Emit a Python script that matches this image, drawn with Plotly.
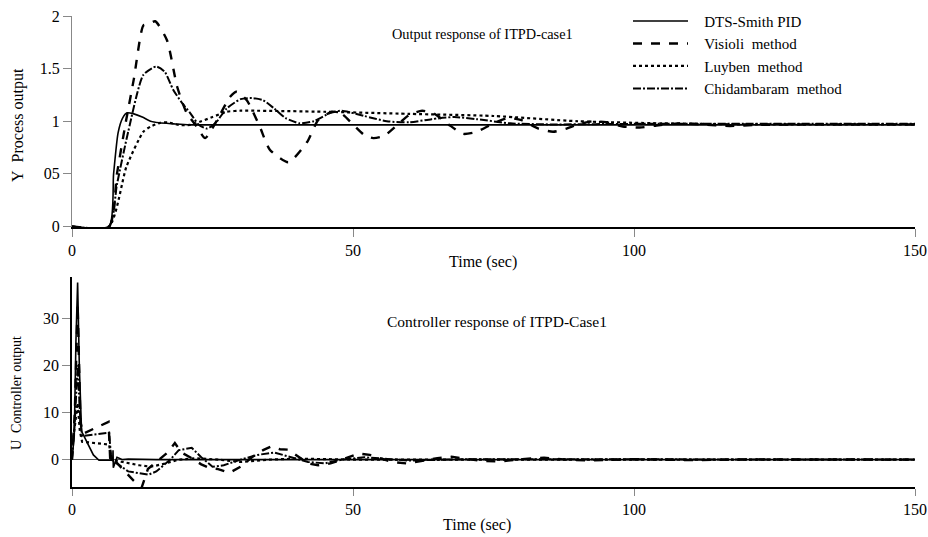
import plotly.graph_objects as go

# ---------------- data: process output (top) ----------------
t_dts_y = [0, 6.6, 7.4, 8.2, 9.0, 9.8, 11, 12.5, 14, 15.5, 18, 21, 150]
y_dts = [0, 0, 0.5, 0.89, 1.03, 1.08, 1.07, 1.04, 1.0, 0.985, 0.975, 0.965, 0.965]

t_vis_y = [0, 6.6, 8, 9.5, 11, 12.7, 13.5, 14.8, 16.9, 18.7, 20.4, 22.2, 23.7, 25.8, 28.1,
           29.3, 31.1, 33.4, 35.2, 38.5, 41.8, 43.8, 46.3, 48, 50, 52, 53.6, 55.5, 58, 60,
           62.3, 64.5, 67, 69.6, 72, 75, 77.6, 80, 83, 85.6, 88, 90, 92.7, 95, 98, 101,
           104, 108, 112, 117, 122, 130, 150]
y_vis = [0, 0, 0.5, 0.97, 1.4, 1.91, 1.92, 1.95, 1.77, 1.33, 1.08, 0.95, 0.84, 1.01, 1.23,
         1.28, 1.2, 0.95, 0.73, 0.61, 0.8, 1.01, 1.09, 1.07, 0.97, 0.87, 0.84, 0.86, 0.97, 1.06,
         1.10, 1.07, 0.97, 0.88, 0.9, 0.98, 1.03, 1.01, 0.93, 0.90, 0.93, 0.97, 1.0, 0.99, 0.95, 0.94,
         0.96, 0.98, 0.97, 0.955, 0.965, 0.97, 0.97]

t_luy_y = [0, 6.6, 9.7, 12.7, 14, 15.7, 17, 19, 21, 23, 25, 27.5, 30, 45, 60, 75, 90, 105, 120, 150]
y_luy = [0, 0, 0.57, 0.9, 0.95, 0.985, 0.99, 0.965, 0.965, 1.0, 1.04, 1.09, 1.1, 1.09, 1.07,
         1.05, 1.0, 0.98, 0.97, 0.97]

t_chi_y = [0, 6.6, 8, 10, 12.7, 15, 16.5, 18, 19.5, 21, 22.5, 24, 25.5, 27.5, 30, 32, 34, 36,
           38, 40.5, 43, 46, 48, 52, 56, 60, 64, 68, 72, 78, 85, 100, 150]
y_chi = [0, 0, 0.4, 0.9, 1.44, 1.52, 1.47, 1.3, 1.18, 1.08, 0.97, 0.93, 0.98, 1.12, 1.21, 1.22,
         1.2, 1.12, 1.03, 0.98, 1.0, 1.08, 1.1, 1.05, 1.0, 0.99, 1.02, 1.04, 1.02, 0.98, 0.97,
         0.975, 0.975]

# ---------------- data: controller output (bottom) ----------------
t_dts_u = [0, 0.4, 0.7, 1.0, 1.3, 1.7, 2.0, 2.5, 3.0, 3.8, 4.8, 7.25, 7.3, 7.35, 8, 9, 10, 12, 15, 20, 150]
u_dts = [0, 5, 25, 37.5, 20, 6, 5.3, 4.0, 2.7, 1.0, -0.15, -0.15, 2.0, -1.7, 0.5, 0, 0.1, 0, 0, 0, 0]

t_vis_u = [0, 0.5, 1.0, 1.5, 2.0, 6.5, 6.8, 7.1, 9, 11, 12.4, 13.5, 15, 17, 18.3, 19.5, 21, 23,
           24.5, 26, 28, 30, 32, 34, 35.5, 37, 38.5, 40, 42, 43.8, 46, 48, 51, 53, 55, 57, 59.5,
           62, 65, 67.5, 70, 73, 76, 80, 84, 88, 92, 100, 110, 120, 150]
u_vis = [0, 10, 33, 8, 5.5, 8.0, 0, 0.5, -2, -4.5, -5.9, -2, -0.5, 1.5, 3.5, 1.5, 0.5, -1,
         -1.8, -2, -2.8, -1.5, 0.5, 2, 2.8, 2.2, 2.1, 0.8, -0.8, -1.2, -0.8, 0, 1.3, 1.0, 0.3, -0.5, -0.8,
         -0.3, 0.3, 0.6, 0.2, -0.3, -0.4, 0.1, 0.4, 0, -0.2, 0.1, -0.1, 0.05, 0]

t_luy_u = [0, 0.1, 0.6, 1.0, 1.4, 1.8, 6.6, 7.0, 9, 12, 14, 16, 19, 22, 26, 30, 35, 40, 50, 150]
u_luy = [3.5, 3.5, 8, 12, 6, 3.8, 3.2, 0, -0.5, -1.2, -1.5, -1.0, 0, 0.3, 0, -0.5, 0, 0.2, 0, 0]

t_chi_u = [0, 0.5, 1.0, 1.5, 1.8, 6.6, 7.0, 10, 13.6, 15, 17.5, 19, 21.3, 23, 25, 27, 30, 33,
           36, 39, 42, 45, 48, 52, 56, 60, 70, 150]
u_chi = [0, 8, 20, 8, 5, 5.7, 0, -2.5, -3.2, -2.5, 0, 2, 2.5, 0.5, -1.5, -1.2, 0, 1, 1.5, 0.5,
         -0.5, -0.8, 0, 0.5, 0.2, -0.2, 0.1, 0]

names = ["DTS-Smith PID", "Visioli\u00a0 method", "Luyben\u00a0 method", "Chidambaram\u00a0 method"]
dashes = ["solid", "dash", "dot", "8px,2px,2px,2px"]
widths = [1.6, 2.4, 2.2, 2.0]

x_ticks = [0, 50, 100, 150]
y1_ticks = [0, 0.5, 1, 1.5, 2]
y1_ticktext = ["0", "05", "1", "1.5", "2"]
y2_ticks = [0, 10, 20, 30]

FONT = "Liberation Serif, Times New Roman, serif"
PAD = "\u00a0\u00a0\u00a0"

fig = go.Figure()
top_sets = [(t_dts_y, y_dts), (t_vis_y, y_vis), (t_luy_y, y_luy), (t_chi_y, y_chi)]
bot_sets = [(t_dts_u, u_dts), (t_vis_u, u_vis), (t_luy_u, u_luy), (t_chi_u, u_chi)]
for i, (tt, yy) in enumerate(top_sets):
    fig.add_trace(go.Scatter(x=tt, y=yy, mode="lines", name=PAD + names[i],
                             line=dict(color="black", width=widths[i], dash=dashes[i], shape="spline", smoothing=0.6),
                             xaxis="x", yaxis="y", showlegend=True))
for i, (tt, uu) in enumerate(bot_sets):
    fig.add_trace(go.Scatter(x=tt, y=uu, mode="lines", name=names[i],
                             line=dict(color="black", width=widths[i], dash=dashes[i]),
                             xaxis="x2", yaxis="y2", showlegend=False))

axis_common = dict(showgrid=False, ticks="outside", tickcolor="#888", tickwidth=1, automargin=False,
                   tickfont=dict(family=FONT, size=16, color="black"), showline=True)

fig.update_layout(
    width=928, height=537, autosize=False,
    margin=dict(l=72, r=13, t=16, b=50, autoexpand=False),
    paper_bgcolor="white", plot_bgcolor="white",
    font=dict(family=FONT, color="black"),
    xaxis=dict(domain=[0, 1], anchor="y", range=[0, 150], tickvals=x_ticks, ticklen=8,
               linecolor="black", linewidth=1.5, zeroline=False, **axis_common),
    yaxis=dict(domain=[0.552, 1], anchor="x", range=[-0.005, 2], tickvals=y1_ticks,
               ticktext=y1_ticktext, ticklen=8, linecolor="#888", linewidth=1, zeroline=False,
               **axis_common),
    xaxis2=dict(domain=[0, 1], anchor="y2", range=[0, 150], tickvals=x_ticks, ticklen=7,
                linecolor="black", linewidth=1.5, zeroline=False, **axis_common),
    yaxis2=dict(domain=[0, 0.446], anchor="x2", range=[-5.8, 38.7], tickvals=y2_ticks, ticklen=8,
                linecolor="black", linewidth=1.5, zeroline=True, zerolinecolor="#555",
                zerolinewidth=1, **axis_common),
    legend=dict(x=(628 - 72) / 843, y=1.024, xanchor="left", yanchor="top", bgcolor="rgba(0,0,0,0)",
                itemwidth=55, font=dict(family=FONT, size=15, color="black"), tracegroupgap=0),
    annotations=[
        dict(text="Output response of ITPD-case1", xref="paper", yref="paper", x=0.377, y=0.962,
             xanchor="left", yanchor="middle", showarrow=False, font=dict(family=FONT, size=14.3)),
        dict(text="Controller response of ITPD-Case1", xref="paper", yref="paper", x=0.371, y=0.352,
             xanchor="left", yanchor="middle", showarrow=False, font=dict(family=FONT, size=15.5)),
        dict(text="Y\u00a0 Process output", xref="paper", yref="paper", x=(18 - 72) / 843, y=0.7686,
             xanchor="center", yanchor="middle", textangle=-90, showarrow=False,
             font=dict(family=FONT, size=16)),
        dict(text="U\u00a0 Controller output", xref="paper", yref="paper", x=(17 - 72) / 843, y=0.1996,
             xanchor="center", yanchor="middle", textangle=-90, showarrow=False,
             font=dict(family=FONT, size=14)),
        dict(text="Time (sec)", xref="paper", yref="paper", x=(483 - 72) / 843, y=(487 - 262) / 471,
             xanchor="center", yanchor="middle", showarrow=False, font=dict(family=FONT, size=16)),
        dict(text="Time (sec)", xref="paper", yref="paper", x=(477 - 72) / 843, y=(487 - 525) / 471,
             xanchor="center", yanchor="middle", showarrow=False, font=dict(family=FONT, size=16)),
    ],
)

fig.write_html("out.html", config={"displayModeBar": False})

# remove the default page margin so the figure sits at the window origin
with open("out.html", "r", encoding="utf-8") as f:
    html = f.read()
html = html.replace("<head>", "<head><style>html,body{margin:0;padding:0;overflow:hidden;}</style>", 1)
with open("out.html", "w", encoding="utf-8") as f:
    f.write(html)
